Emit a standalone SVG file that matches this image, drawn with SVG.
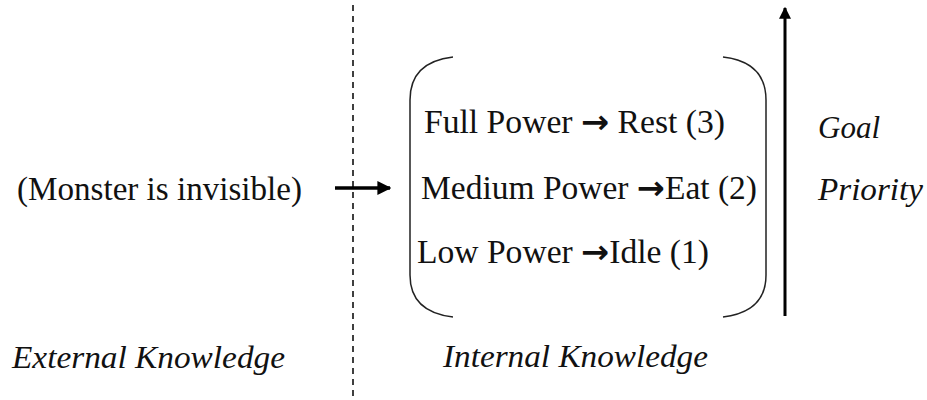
<svg xmlns="http://www.w3.org/2000/svg" width="927" height="400" viewBox="0 0 927 400">
  <style>
    .t { font-family: "Liberation Serif", "Times New Roman", Times, serif; font-size: 33px; fill: #111; }
    .i { font-family: "Liberation Serif", "Times New Roman", Times, serif; font-size: 31px; font-style: italic; fill: #111; }
    .ar { font-family: "DejaVu Sans", sans-serif; font-weight: bold; }
    .br { fill: none; stroke: #222; stroke-width: 1.5; }
  </style>
  <defs>
    <marker id="head" viewBox="0 0 10 10" refX="9" refY="5" markerWidth="4" markerHeight="4" orient="auto" markerUnits="strokeWidth">
      <path d="M0,0 L10,5 L0,10 z" fill="#000"/>
    </marker>
  </defs>
  <rect width="927" height="400" fill="#fff"/>

  <!-- divider between external and internal knowledge -->
  <line x1="353" y1="5" x2="353" y2="400" stroke="#000" stroke-width="1.5" stroke-dasharray="6,5"/>

  <g id="connectors">
    <line x1="335" y1="188" x2="390" y2="188" stroke="#000" stroke-width="3.5" marker-end="url(#head)"/>
    <line x1="785" y1="316" x2="785" y2="8" stroke="#000" stroke-width="3" marker-end="url(#head)"/>
  </g>

  <g id="external">
    <text class="t" x="17" y="200" textLength="285" lengthAdjust="spacingAndGlyphs">(Monster is invisible)</text>
    <text class="i" x="12" y="368" textLength="273" lengthAdjust="spacingAndGlyphs">External Knowledge</text>
  </g>

  <g id="internal">
    <path class="br" d="M453,57 Q410,62 410,100 L410,275 Q410,312 453,317"/>
    <path class="br" d="M723,57 Q766,62 766,100 L766,275 Q766,312 723,317"/>
    <text class="t" x="424" y="133" textLength="301" lengthAdjust="spacingAndGlyphs">Full Power <tspan class="ar">→</tspan> Rest (3)</text>
    <text class="t" x="421" y="199" textLength="336" lengthAdjust="spacingAndGlyphs">Medium Power <tspan class="ar">→</tspan>Eat (2)</text>
    <text class="t" x="417" y="263" textLength="292" lengthAdjust="spacingAndGlyphs">Low Power <tspan class="ar">→</tspan>Idle (1)</text>
    <text class="i" x="443" y="367" textLength="265" lengthAdjust="spacingAndGlyphs">Internal Knowledge</text>
  </g>

  <g id="priority">
    <text class="i" x="818" y="138" textLength="62" lengthAdjust="spacingAndGlyphs">Goal</text>
    <text class="i" x="818" y="200" textLength="105" lengthAdjust="spacingAndGlyphs">Priority</text>
  </g>
</svg>
